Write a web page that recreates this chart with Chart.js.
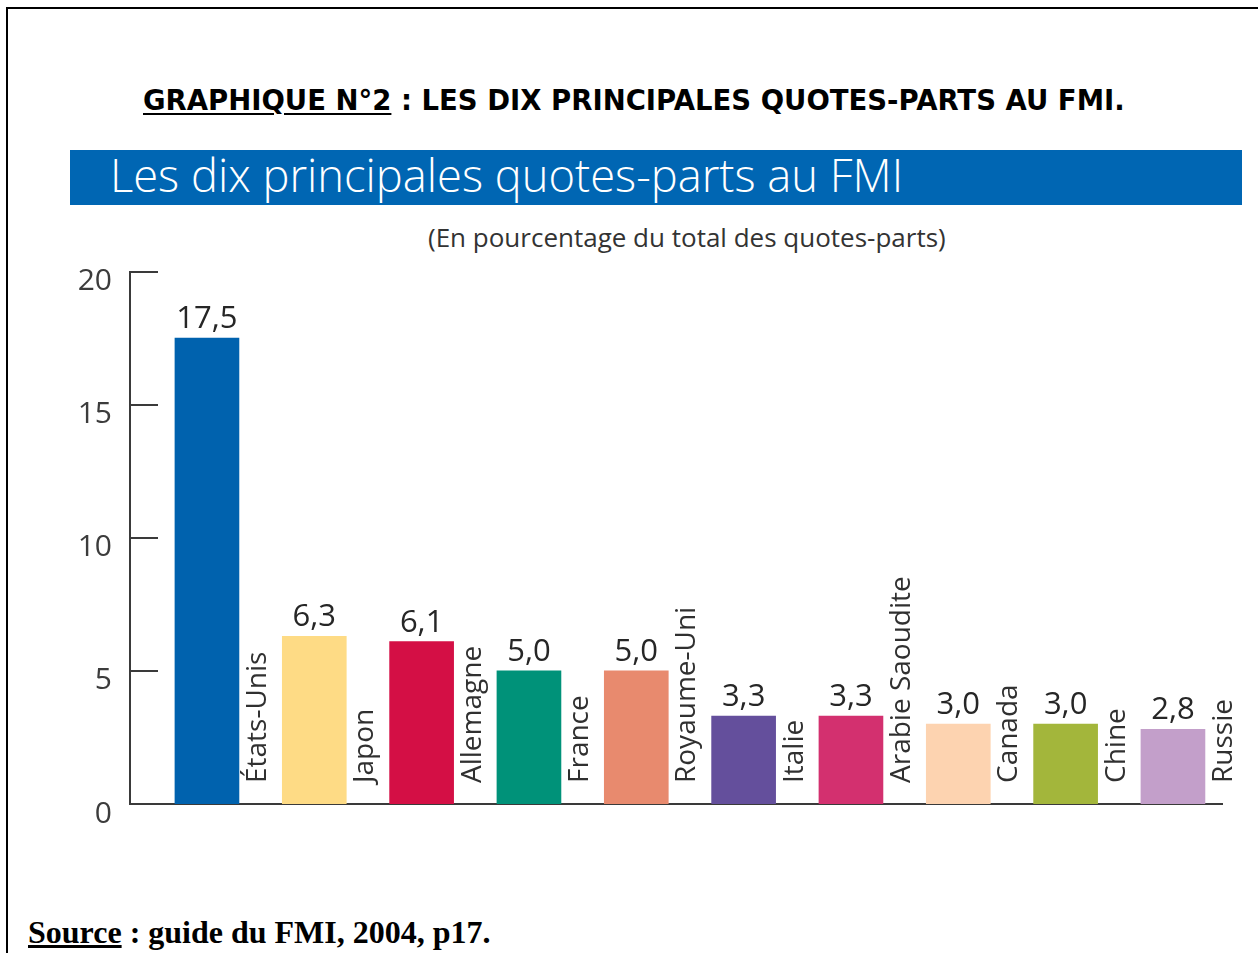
<!DOCTYPE html>
<html lang="fr">
<head>
<meta charset="utf-8">
<title>Les dix principales quotes-parts au FMI</title>
<script src="https://cdn.jsdelivr.net/npm/chart.js@4.4.1/dist/chart.umd.min.js"></script>
<style>
  html, body { margin: 0; padding: 0; background: #fff; overflow: hidden; }
  body { width: 1258px; height: 953px; position: relative; }
  .cadre {
    position: absolute; left: 6px; top: 7px; width: 2000px; height: 2000px;
    border-top: 2px solid #000; border-left: 2px solid #000;
  }
  .titre {
    position: absolute; left: 143px; top: 87px; white-space: nowrap;
    font: bold 27.5px "DejaVu Sans", Verdana, sans-serif; line-height: 1; color: #000;
  }
  .titre u { text-decoration-thickness: 2px; text-underline-offset: 3px; }
  .bandeau {
    position: absolute; left: 70px; top: 150px; width: 1172px; height: 55px;
    background: #0066b3;
  }
  .bandeau span {
    position: absolute; left: 40px; top: 2px; white-space: nowrap;
    font: 300 45.3px "Open Sans", sans-serif; line-height: 1; color: #fff;
  }
  .sous-titre {
    position: absolute; left: 428px; top: 224px; white-space: nowrap;
    font: 26px "Open Sans", sans-serif; line-height: 1; color: #333;
  }
  .source {
    position: absolute; left: 28px; top: 916px; white-space: nowrap;
    font: bold 32px "Liberation Serif", "Times New Roman", serif; line-height: 1; color: #000;
  }
  #graphique { position: absolute; left: 0; top: 200px; }
</style>
</head>
<body>
<div class="cadre"></div>
<div class="titre"><u>GRAPHIQUE N°2</u> : LES DIX PRINCIPALES QUOTES-PARTS AU FMI.</div>
<div class="bandeau"><span>Les dix principales quotes-parts au FMI</span></div>
<div class="sous-titre">(En pourcentage du total des quotes-parts)</div>
<canvas id="graphique" width="1258" height="670"></canvas>
<div class="source"><u>Source</u> : guide du FMI, 2004, p17.</div>

<script>
// données (en % du total des quotes-parts)
const PAYS = ['États-Unis', 'Japon', 'Allemagne', 'France', 'Royaume-Uni',
  'Italie', 'Arabie Saoudite', 'Canada', 'Chine', 'Russie'];
const QUOTES_PARTS = [17.5, 6.3, 6.1, 5.0, 5.0, 3.3, 3.3, 3.0, 3.0, 2.8];
const COULEURS = ['#0062ae', '#fedb85', '#d40f45', '#009279', '#e88a6e',
  '#644f9c', '#d3306f', '#fdd3b0', '#a3b63b', '#c39fca'];
const GRADUATIONS = [0, 5, 10, 15, 20];

const AXE = '#3a3a3a';
const TEXTE = '#262626';

Chart.defaults.font.family = '"Open Sans", "Noto Sans", sans-serif';

const formatFr = (v) => v.toFixed(1).replace('.', ',');

// petits traits de graduation tournés vers l'intérieur
const tickInterieurs = {
  id: 'tickInterieurs',
  afterDraw(chart) {
    const { ctx, scales: { y } } = chart;
    ctx.save();
    ctx.strokeStyle = AXE;
    ctx.lineWidth = 2;
    GRADUATIONS.forEach((v) => {
      const py = Math.round(y.getPixelForValue(v));
      ctx.beginPath();
      ctx.moveTo(y.right, py);
      ctx.lineTo(y.right + 28, py);
      ctx.stroke();
    });
    ctx.restore();
  },
};

// valeurs au-dessus des barres et noms des pays à la verticale
const etiquettes = {
  id: 'etiquettes',
  afterDatasetsDraw(chart) {
    const { ctx, scales: { y } } = chart;
    const meta = chart.getDatasetMeta(0);
    const base = y.getPixelForValue(0);
    ctx.save();
    meta.data.forEach((bar, i) => {
      ctx.fillStyle = TEXTE;
      ctx.font = '500 31px "Open Sans", sans-serif';
      ctx.textAlign = 'center';
      ctx.textBaseline = 'alphabetic';
      ctx.fillText(formatFr(QUOTES_PARTS[i]), bar.x, bar.y - 10);

      ctx.save();
      ctx.translate(bar.x + bar.width / 2 + 27, base - 21);
      ctx.rotate(-Math.PI / 2);
      ctx.font = '28px "Open Sans", sans-serif';
      ctx.fillStyle = '#303030';
      ctx.textAlign = 'left';
      ctx.fillText(PAYS[i], 0, 0);
      ctx.restore();
    });
    ctx.restore();
  },
};

new Chart(document.getElementById('graphique'), {
  type: 'bar',
  data: {
    labels: PAYS,
    datasets: [{
      data: QUOTES_PARTS.map((v, i) => ({ x: i, y: v })),
      backgroundColor: COULEURS,
      borderWidth: 0,
      barThickness: 64,
    }],
  },
  options: {
    responsive: false,
    animation: false,
    events: [],
    layout: { padding: { top: 71.5, bottom: 66, left: 0, right: 36 } },
    plugins: { legend: { display: false }, tooltip: { enabled: false }, title: { display: false } },
    scales: {
      x: {
        type: 'linear',
        offset: false,
        min: -0.717,
        max: 9.457,
        grid: { display: false, drawTicks: false },
        border: { display: true, color: AXE, width: 2 },
        ticks: { display: false },
        afterFit: (s) => { s.height = 0; },
      },
      y: {
        min: 0,
        max: 20,
        grid: { display: false, drawTicks: false },
        border: { display: true, color: AXE, width: 2 },
        ticks: {
          stepSize: 5,
          padding: 18,
          labelOffset: 10,
          color: '#3c3c3c',
          font: { size: 30 },
        },
        afterFit: (s) => { s.width = 130; },
      },
    },
  },
  plugins: [tickInterieurs, etiquettes],
});
</script>
</body>
</html>
